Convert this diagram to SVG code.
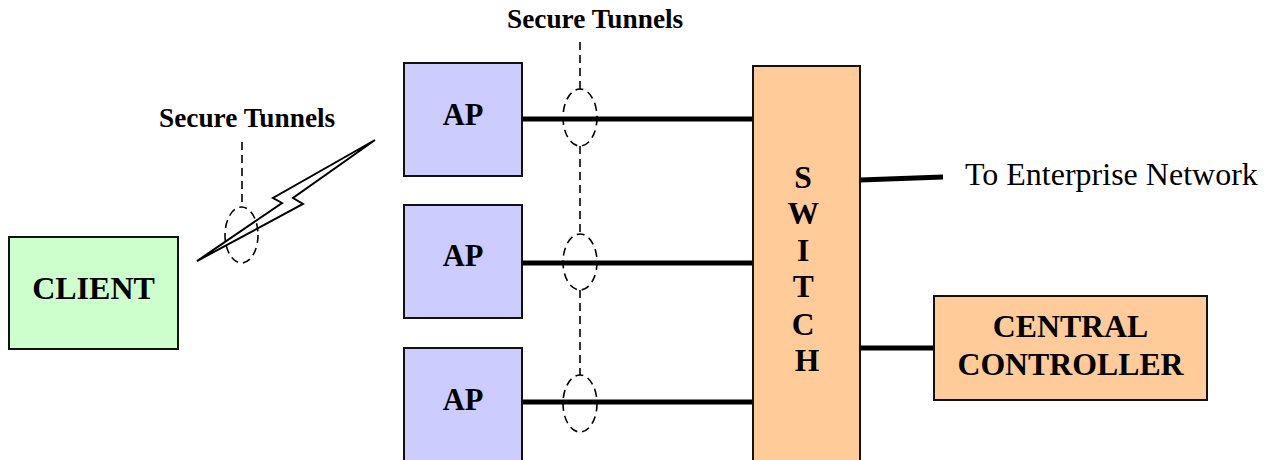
<svg xmlns="http://www.w3.org/2000/svg" width="1271" height="460" viewBox="0 0 1271 460">
<style>
.box{stroke:#111;stroke-width:2}
.client{fill:#ccffcc}
.ap{fill:#ccccff}
.org{fill:#ffcc99}
.bt{font-family:"Liberation Serif",serif;font-weight:bold;fill:#000;text-anchor:middle}
.lbl{font-family:"Liberation Serif",serif;font-weight:bold;font-size:27.3px;fill:#000}
.wire{stroke:#000;stroke-width:5;fill:none}
.dash{stroke:#000;stroke-width:1.6;stroke-dasharray:8,5;fill:none}
</style>
<rect width="1271" height="460" fill="#fff"/>
<g id="connectors">
<line class="wire" x1="522" y1="119" x2="753" y2="119"/>
<line class="wire" x1="522" y1="263" x2="753" y2="263"/>
<line class="wire" x1="522" y1="402" x2="753" y2="402"/>
<line class="wire" x1="860" y1="180" x2="943" y2="177"/>
<line class="wire" x1="860" y1="348" x2="934" y2="348"/>
<polygon points="197,261 282,203 273,198 375,140 293,198 303,204" fill="#fff" stroke="#000" stroke-width="2" stroke-linejoin="miter"/>
</g>
<g id="tunnel-left">
<line class="dash" x1="242" y1="142" x2="242" y2="207"/>
<ellipse class="dash" cx="241.5" cy="235" rx="16.5" ry="28"/>
<text class="lbl" x="159" y="127">Secure Tunnels</text>
</g>
<g id="tunnel-right">
<line class="dash" x1="580" y1="42" x2="580" y2="89"/>
<line class="dash" x1="580" y1="146" x2="580" y2="234"/>
<line class="dash" x1="580" y1="290" x2="580" y2="375"/>
<ellipse class="dash" cx="580" cy="117.5" rx="17" ry="28.5"/>
<ellipse class="dash" cx="580" cy="262" rx="17" ry="28"/>
<ellipse class="dash" cx="580" cy="403.5" rx="17" ry="28.5"/>
<text class="lbl" x="507" y="28">Secure Tunnels</text>
</g>
<g id="client">
<rect class="box client" x="9" y="237" width="169" height="112"/>
<text class="bt" x="93.5" y="299" font-size="32">CLIENT</text>
</g>
<g id="ap1">
<rect class="box ap" x="404" y="63" width="118" height="113"/>
<text class="bt" x="463" y="125" font-size="30.5">AP</text>
</g>
<g id="ap2">
<rect class="box ap" x="404" y="205" width="118" height="113"/>
<text class="bt" x="463" y="266" font-size="30.5">AP</text>
</g>
<g id="ap3">
<rect class="box ap" x="404" y="348" width="118" height="120"/>
<text class="bt" x="463" y="410" font-size="30.5">AP</text>
</g>
<g id="switch">
<rect class="box org" x="753" y="66" width="107" height="400"/>
<text class="bt" font-size="31.5">
<tspan x="807" y="188">S</tspan>
<tspan x="807" y="224">W</tspan>
<tspan x="807" y="261">I</tspan>
<tspan x="807" y="297">T</tspan>
<tspan x="807" y="335">C</tspan>
<tspan x="807" y="371">H</tspan>
</text>
</g>
<g id="enterprise">
<text x="965" y="185" font-family="'Liberation Serif',serif" font-size="32" fill="#000">To Enterprise Network</text>
</g>
<g id="controller">
<rect class="box org" x="934" y="296" width="273" height="104"/>
<text class="bt" x="1070.5" y="337" font-size="31.8">CENTRAL</text>
<text class="bt" x="1070.5" y="375" font-size="31.8">CONTROLLER</text>
</g>
</svg>
